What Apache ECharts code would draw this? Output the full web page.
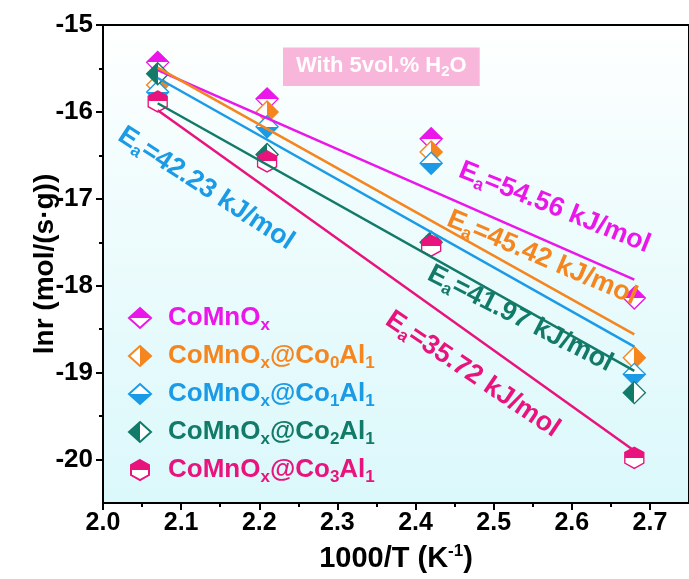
<!DOCTYPE html>
<html>
<head>
<meta charset="utf-8">
<script src="https://cdn.jsdelivr.net/npm/echarts@6/dist/echarts.min.js"></script>
<style>
  html, body { margin: 0; padding: 0; background: #ffffff; }
  #chart { width: 689px; height: 579px; }
</style>
</head>
<body>
<div id="chart"></div>
<script>
// ---- data -------------------------------------------------------------
const invT = [2.07, 2.21, 2.42, 2.68];            // 1000/T (K^-1)
const sampleNames = ['CoMnOx', 'CoMnOx@Co0Al1', 'CoMnOx@Co1Al1', 'CoMnOx@Co2Al1', 'CoMnOx@Co3Al1'];
const lnrCoMnOx = [-15.43, -15.85, -16.31, -18.14];
const lnrCo0Al1 = [-15.69, -16.00, -16.46, -18.83];
const lnrCo1Al1 = [-15.77, -16.17, -16.59, -19.02];
const lnrCo2Al1 = [-15.56, -16.49, -17.50, -19.23];
const lnrCo3Al1 = [-15.88, -16.57, -17.54, -19.98];

// linear fits (end points)
const fitX = [2.07, 2.68];
const fitCoMnOx = [-15.52, -17.93];
const fitCo0Al1 = [-15.49, -18.56];
const fitCo1Al1 = [-15.61, -18.70];
const fitCo2Al1 = [-15.90, -18.98];
const fitCo3Al1 = [-15.98, -19.90];

const eaValues = ['54.56', '45.42', '42.23', '41.97', '35.72'];   // kJ/mol

const xTickValues = [2.0, 2.1, 2.2, 2.3, 2.4, 2.5, 2.6, 2.7];
const xMinorValues = [2.05, 2.15, 2.25, 2.35, 2.45, 2.55, 2.65];
const yTickValues = [-20, -19, -18, -17, -16, -15];
const yMinorValues = [-19.5, -18.5, -17.5, -16.5, -15.5];

// ---- styling --------------------------------------------------------
const FONT = 'Liberation Sans, Arial, Helvetica, sans-serif';
const colors = ['#ea16ea', '#f5861f', '#1b9be6', '#127a69', '#e9137d'];
const filledSide = ['top', 'right', 'bottom', 'left', 'top'];
const HEX = 'path://M10 0 L19 5 L19 15 L10 20 L1 15 L1 5 Z';
const symbols = ['diamond', 'diamond', 'diamond', 'diamond', HEX];
const symbolSizes = [[22, 22], [22, 22], [22, 22], [22, 22], [19, 21]];
const lnrSets = [lnrCoMnOx, lnrCo0Al1, lnrCo1Al1, lnrCo2Al1, lnrCo3Al1];
const fitSets = [fitCoMnOx, fitCo0Al1, fitCo1Al1, fitCo2Al1, fitCo3Al1];

// label placement for the activation-energy notes: [x, y] in data units, tilt in degrees
const eaPlace = [
  { at: [2.578, -17.10], tilt: 22 },
  { at: [2.562, -17.68], tilt: 23 },
  { at: [2.132, -16.88], tilt: 33 },
  { at: [2.534, -18.38], tilt: 27 },
  { at: [2.473, -19.02], tilt: 34 }
];

// half-filled marker: solid colour on one side, white on the other
function halfFill(color, side) {
  const vertical = side === 'top' || side === 'bottom';
  const a = (side === 'top' || side === 'left') ? color : '#ffffff';
  const b = a === color ? '#ffffff' : color;
  return {
    type: 'linear', x: 0, y: 0, x2: vertical ? 0 : 1, y2: vertical ? 1 : 0,
    colorStops: [
      { offset: 0, color: a }, { offset: 0.5, color: a },
      { offset: 0.5, color: b }, { offset: 1, color: b }
    ],
    global: false
  };
}

function richName(n) {
  return n.replace('Ox', 'O{sub|x}').replace(/Co(\d)Al(\d)/, 'Co{sub|$1}Al{sub|$2}');
}

const subStyle = { fontSize: 17, fontWeight: 'bold', fontFamily: FONT, padding: [14, 0, 0, 0] };
const supStyle = { fontSize: 17, fontWeight: 'bold', fontFamily: FONT, padding: [0, 0, 14, 0] };

const series = [];
sampleNames.forEach(function (name, i) {
  series.push({
    type: 'scatter',
    name: name,
    data: invT.map(function (x, j) { return [x, lnrSets[i][j]]; }),
    symbol: symbols[i],
    symbolSize: symbolSizes[i],
    itemStyle: { color: halfFill(colors[i], filledSide[i]), borderColor: colors[i], borderWidth: 1.4, opacity: 1 },
    z: 2
  });
});
sampleNames.forEach(function (name, i) {
  series.push({
    type: 'line',
    name: name + ' fit',
    data: fitX.map(function (x, j) { return [x, fitSets[i][j]]; }),
    showSymbol: false,
    symbol: 'none',
    lineStyle: { color: colors[i], width: 2.5 },
    z: 3,
    silent: true
  });
});

const chart = echarts.init(document.getElementById('chart'), null, { renderer: 'canvas' });

chart.setOption({
  animation: false,
  backgroundColor: '#ffffff',
  textStyle: { fontFamily: FONT },
  title: {
    text: 'With 5vol.% H{sub|2}O',
    left: 283, top: 45,
    backgroundColor: '#f8b6db',
    padding: [7, 13, 7, 13],
    textStyle: {
      color: '#ffffff', fontSize: 22, fontWeight: 'bold', fontFamily: FONT,
      rich: { sub: { fontSize: 15, fontWeight: 'bold', fontFamily: FONT, color: '#ffffff', padding: [12, 0, 0, 0] } }
    }
  },
  grid: {
    left: 103, top: 25, width: 593, height: 478,
    show: true, borderColor: '#000', borderWidth: 2,
    backgroundColor: {
      type: 'linear', x: 0, y: 0, x2: 0, y2: 1,
      colorStops: [
        { offset: 0, color: '#ffffff' },
        { offset: 0.35, color: '#f0fcfd' },
        { offset: 1, color: '#dbf8fb' }
      ]
    }
  },
  legend: {
    orient: 'vertical', left: 123, top: 300,
    itemWidth: 22, itemHeight: 20, itemGap: 9.5,
    selectedMode: false,
    data: sampleNames.map(function (n, i) { return { name: n, textStyle: { color: colors[i] } }; }),
    formatter: richName,
    textStyle: {
      fontSize: 26, fontWeight: 'bold', fontFamily: FONT, padding: [0, 0, 0, 12],
      rich: { sub: subStyle }
    }
  },
  xAxis: [
    {
      type: 'value', min: 2.0, max: 2.75, interval: 0.1,
      name: '1000/T (K{sup|-1})', nameLocation: 'middle', nameGap: 40,
      nameTextStyle: { color: '#000', fontSize: 29, fontWeight: 'bold', fontFamily: FONT, rich: { sup: supStyle } },
      axisLine: { show: true, onZero: false, lineStyle: { color: '#000', width: 2 } },
      axisTick: { show: true, inside: false, length: 7, lineStyle: { width: 2, color: '#000' }, customValues: xTickValues },
      axisLabel: { color: '#000', fontSize: 25, fontWeight: 'bold', fontFamily: FONT, margin: 8,
                   customValues: xTickValues, formatter: function (v) { return v.toFixed(1); } },
      splitLine: { show: false }
    },
    {
      type: 'value', min: 2.0, max: 2.75, interval: 0.1, position: 'bottom',
      axisLine: { show: false },
      axisTick: { show: true, inside: false, length: 4, lineStyle: { width: 2, color: '#000' }, customValues: xMinorValues },
      axisLabel: { show: false },
      splitLine: { show: false }
    }
  ],
  yAxis: [
    {
      type: 'value', min: -20.5, max: -15, interval: 0.5,
      name: 'lnr (mol/(s·g))', nameLocation: 'middle', nameGap: 44, nameMoveOverlap: false,
      nameTextStyle: { color: '#000', fontSize: 28, fontWeight: 'bold', fontFamily: FONT },
      axisLine: { show: true, onZero: false, lineStyle: { color: '#000', width: 2 } },
      axisTick: { show: true, inside: false, length: 7, lineStyle: { width: 2, color: '#000' }, customValues: yTickValues },
      axisLabel: { color: '#000', fontSize: 26, fontWeight: 'bold', fontFamily: FONT, margin: 10,
                   customValues: yTickValues, formatter: function (v) { return String(v); } },
      splitLine: { show: false }
    },
    {
      type: 'value', min: -20.5, max: -15, interval: 0.5, position: 'left',
      axisLine: { show: false },
      axisTick: { show: true, inside: false, length: 4, lineStyle: { width: 2, color: '#000' }, customValues: yMinorValues },
      axisLabel: { show: false },
      splitLine: { show: false }
    }
  ],
  series: series
});

// activation-energy notes, placed in data coordinates and tilted along the fits
chart.setOption({
  graphic: eaValues.map(function (v, i) {
    const p = chart.convertToPixel({ xAxisIndex: 0, yAxisIndex: 0 }, eaPlace[i].at);
    return {
      type: 'text',
      x: p[0], y: p[1],
      rotation: -eaPlace[i].tilt * Math.PI / 180,
      z: 10,
      style: {
        text: 'E{sub|a}=' + v + ' kJ/mol',
        fill: colors[i],
        fontSize: 27, fontWeight: 'bold', fontFamily: FONT,
        align: 'center', verticalAlign: 'middle',
        rich: { sub: { fontSize: 17, fontWeight: 'bold', fontFamily: FONT, padding: [15, 0, 0, 0] } }
      }
    };
  })
});
</script>
</body>
</html>
